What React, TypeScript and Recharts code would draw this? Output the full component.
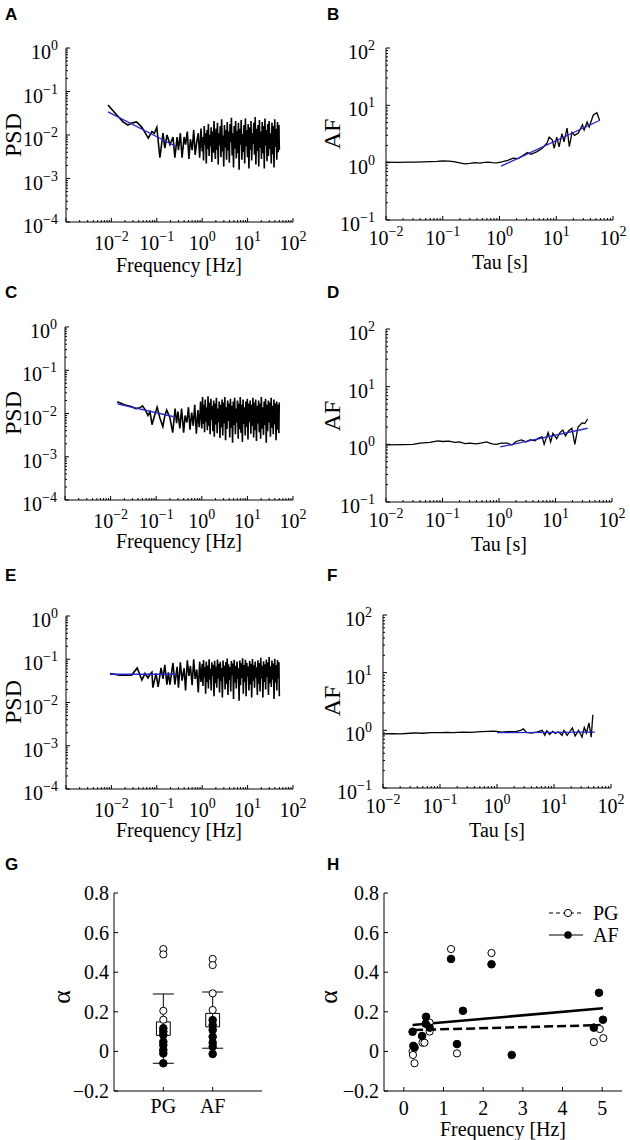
import React from 'react';
import { LineChart, Line, XAxis, YAxis, ComposedChart, Scatter, ErrorBar, ReferenceArea } from 'recharts';

const SERIF = '"Liberation Serif", "Times New Roman", Times, serif';
const SANS = '"Liberation Sans", Arial, Helvetica, sans-serif';
const BLUE = '#2626c8';

// ---------------- PSD panels (A, C, E) ----------------
// shared frequency grid of the dense high-frequency part [Hz]
const denseFreq = [
  0.30, 0.33, 0.36, 0.40, 0.43, 0.47, 0.51, 0.55, 0.60, 0.65, 0.70, 0.76, 0.82, 0.88, 0.94,
  1.00, 1.04, 1.07, 1.11, 1.15, 1.19, 1.23, 1.28, 1.32, 1.37,
  1.42, 1.47, 1.52, 1.58, 1.63, 1.69, 1.75, 1.82, 1.88, 1.95,
  2.02, 2.09, 2.17, 2.25, 2.33, 2.41, 2.50, 2.59, 2.68, 2.78,
  2.88, 2.98, 3.09, 3.20, 3.32, 3.44, 3.56, 3.69, 3.82, 3.96,
  4.10, 4.25, 4.40, 4.56, 4.73, 4.90, 5.07, 5.26, 5.45, 5.64,
  5.85, 6.06, 6.28, 6.50, 6.74, 6.98, 7.23, 7.49, 7.76, 8.04,
  8.33, 8.63, 8.95, 9.27, 9.60, 9.95, 10.3, 10.7, 11.1, 11.5,
  11.9, 12.3, 12.8, 13.2, 13.7, 14.2, 14.7, 15.2, 15.8, 16.4,
  16.9, 17.6, 18.2, 18.8, 19.5, 20.2, 21.0, 21.7, 22.5, 23.3,
  24.1, 25.0, 25.9, 26.8, 27.8, 28.8, 29.8, 30.9, 32.0, 33.2,
  34.4, 35.6, 36.9, 38.2, 39.6, 41.0, 42.5, 44.0, 45.6, 47.2,
  49.0, 50.0,
];

const psdALowF = [0.0084, 0.012, 0.018, 0.023, 0.029, 0.036, 0.047, 0.056, 0.065, 0.078, 0.088, 0.1, 0.117, 0.137, 0.15, 0.168, 0.195, 0.228, 0.25, 0.28];
const psdALowV = [0.049, 0.032, 0.02, 0.017, 0.019, 0.02, 0.015, 0.011, 0.0085, 0.012, 0.011, 0.015, 0.003, 0.011, 0.005, 0.01, 0.006, 0.009, 0.003, 0.009];
const psdADense = [
  0.0045, 0.011, 0.003, 0.009, 0.006, 0.012, 0.0028, 0.008, 0.0045, 0.013, 0.0035, 0.007, 0.011, 0.003, 0.014,
  0.0042, 0.009, 0.0026, 0.016, 0.006, 0.011, 0.0022, 0.013, 0.0048, 0.018,
  0.0033, 0.010, 0.0055, 0.015, 0.0024, 0.012, 0.0039, 0.021, 0.0062, 0.0028,
  0.014, 0.0045, 0.019, 0.0021, 0.011, 0.0058, 0.016, 0.0031, 0.023, 0.0042,
  0.0097, 0.0019, 0.017, 0.0052, 0.013, 0.0027, 0.020, 0.0044, 0.012, 0.0023,
  0.018, 0.0068, 0.025, 0.0034, 0.011, 0.0018, 0.016, 0.0049, 0.021, 0.0029,
  0.0125, 0.0038, 0.019, 0.0016, 0.014, 0.006, 0.022, 0.0027, 0.0105, 0.0041,
  0.017, 0.0022, 0.024, 0.0055, 0.013, 0.0031, 0.018, 0.0017, 0.015, 0.0046,
  0.021, 0.0026, 0.011, 0.0062, 0.019, 0.0035, 0.026, 0.0021, 0.014, 0.0043,
  0.017, 0.0019, 0.022, 0.0051, 0.012, 0.0028, 0.020, 0.0038, 0.016, 0.0017,
  0.024, 0.0057, 0.013, 0.0025, 0.018, 0.0033, 0.021, 0.0048, 0.011, 0.0022,
  0.019, 0.0036, 0.016, 0.0018, 0.023, 0.0053, 0.014, 0.0027, 0.020, 0.004,
  0.017, 0.0045,
];
const psdAFitF = [0.0084, 0.28];
const psdAFitV = [0.034, 0.0053];

const psdCLowF = [0.014, 0.02, 0.028, 0.036, 0.044, 0.05, 0.058, 0.066, 0.073, 0.081, 0.092, 0.105, 0.12, 0.14, 0.155, 0.17, 0.2, 0.23, 0.26, 0.28];
const psdCLowV = [0.0186, 0.016, 0.0145, 0.013, 0.0135, 0.015, 0.012, 0.009, 0.011, 0.0055, 0.009, 0.014, 0.008, 0.005, 0.009, 0.012, 0.008, 0.0036, 0.013, 0.006];
const psdCDense = [
  0.011, 0.0045, 0.013, 0.0036, 0.009, 0.0062, 0.014, 0.0042, 0.0105, 0.0052, 0.016, 0.0034, 0.012, 0.0048, 0.019,
  0.0045, 0.024, 0.0058, 0.016, 0.0037, 0.021, 0.0065, 0.014, 0.0041, 0.025,
  0.0052, 0.018, 0.0033, 0.022, 0.0071, 0.015, 0.0039, 0.020, 0.0029, 0.017,
  0.0056, 0.023, 0.0035, 0.013, 0.0062, 0.019, 0.0027, 0.016, 0.0048, 0.021,
  0.0031, 0.018, 0.0059, 0.024, 0.0024, 0.014, 0.0044, 0.020, 0.0067, 0.017,
  0.0028, 0.022, 0.0047, 0.015, 0.0021, 0.019, 0.0054, 0.023, 0.0033, 0.013,
  0.0061, 0.020, 0.0026, 0.017, 0.0043, 0.024, 0.0036, 0.016, 0.0022, 0.021,
  0.0057, 0.014, 0.0031, 0.019, 0.0049, 0.022, 0.0025, 0.017, 0.0063, 0.020,
  0.0034, 0.016, 0.0052, 0.023, 0.0028, 0.018, 0.0041, 0.021, 0.0023, 0.015,
  0.0059, 0.020, 0.0037, 0.017, 0.0026, 0.024, 0.0045, 0.014, 0.0032, 0.019,
  0.0054, 0.022, 0.0021, 0.016, 0.0039, 0.020, 0.0062, 0.018, 0.0029, 0.023,
  0.0047, 0.015, 0.0033, 0.021, 0.0056, 0.017, 0.0024, 0.019, 0.0042, 0.016,
  0.0035, 0.018,
];
const psdCFitF = [0.014, 0.26];
const psdCFitV = [0.0166, 0.0083];

const psdELowF = [0.0093, 0.015, 0.028, 0.037, 0.047, 0.055, 0.064, 0.071, 0.078, 0.082, 0.096, 0.107, 0.124, 0.137, 0.15, 0.167, 0.18, 0.195, 0.227, 0.25, 0.28];
const psdELowV = [0.047, 0.043, 0.043, 0.063, 0.033, 0.047, 0.037, 0.045, 0.05, 0.022, 0.047, 0.023, 0.063, 0.035, 0.074, 0.026, 0.05, 0.026, 0.082, 0.026, 0.067];
const psdEDense = [
  0.022, 0.085, 0.032, 0.062, 0.019, 0.095, 0.041, 0.070, 0.025, 0.100, 0.035, 0.058, 0.017, 0.088, 0.030,
  0.078, 0.024, 0.096, 0.038, 0.065, 0.016, 0.088, 0.030, 0.072, 0.021,
  0.100, 0.034, 0.060, 0.019, 0.085, 0.041, 0.075, 0.014, 0.092, 0.028,
  0.068, 0.022, 0.098, 0.036, 0.079, 0.017, 0.087, 0.031, 0.063, 0.013,
  0.094, 0.039, 0.071, 0.020, 0.086, 0.027, 0.104, 0.015, 0.076, 0.033,
  0.066, 0.018, 0.091, 0.042, 0.080, 0.012, 0.097, 0.029, 0.070, 0.021,
  0.089, 0.035, 0.062, 0.011, 0.093, 0.025, 0.081, 0.037, 0.105, 0.016,
  0.074, 0.030, 0.097, 0.014, 0.083, 0.040, 0.068, 0.019, 0.092, 0.026,
  0.079, 0.013, 0.101, 0.032, 0.073, 0.022, 0.088, 0.038, 0.065, 0.015,
  0.095, 0.027, 0.082, 0.018, 0.108, 0.036, 0.071, 0.013, 0.090, 0.030,
  0.077, 0.020, 0.099, 0.039, 0.084, 0.015, 0.112, 0.028, 0.069, 0.023,
  0.093, 0.034, 0.080, 0.012, 0.102, 0.029, 0.074, 0.019, 0.096, 0.036,
  0.085, 0.014,
];
const psdEFitF = [0.0093, 0.28];
const psdEFitV = [0.045, 0.045];

// ---------------- AF panels (B, D, F) ----------------
const afBTau = [0.01, 0.016, 0.025, 0.032, 0.045, 0.06, 0.08, 0.1, 0.13, 0.165, 0.2, 0.245, 0.3, 0.37, 0.45, 0.55, 0.63, 0.75, 0.9, 1.1, 1.4, 1.74, 2.1, 2.5, 3.1, 3.6, 4.6, 5.6, 6.9, 7.5, 8.5, 9.2, 10.2, 11.2, 12.6, 13.7, 15.5, 17, 19, 21, 24.5, 29, 31, 35, 38, 45, 52, 58];
const afBVal = [1.02, 1.01, 1.02, 1.02, 1.03, 1.04, 1.05, 1.07, 1.06, 1.03, 0.99, 0.95, 0.97, 1.0, 0.98, 1.01, 1.02, 1.0, 0.99, 1.03, 1.1, 1.2, 1.18, 1.3, 1.5, 1.4, 1.56, 1.77, 2.2, 2.8, 2.5, 1.77, 2.8, 1.88, 3.2, 2.3, 4.0, 1.9, 3.4, 3.0, 3.3, 4.6, 3.7, 5.1, 4.2, 6.8, 7.4, 5.5];
const afBFitTau = [1.07, 59];
const afBFitVal = [0.87, 5.5];

const afDTau = [0.01, 0.02, 0.03, 0.04, 0.06, 0.083, 0.1, 0.13, 0.165, 0.2, 0.25, 0.3, 0.4, 0.5, 0.6, 0.75, 0.9, 1.1, 1.4, 1.7, 2.0, 2.5, 3.0, 3.6, 4.3, 5.0, 5.8, 6.3, 7.4, 8.2, 9.0, 10.5, 12, 13.5, 15, 17, 19.5, 22, 25, 29.5, 33, 37];
const afDVal = [0.98, 0.99, 1.0, 1.05, 1.08, 1.15, 1.12, 1.14, 1.08, 1.1, 1.03, 1.05, 1.02, 1.06, 1.1, 1.02, 1.0, 1.05, 1.05, 0.97, 1.12, 1.19, 1.1, 1.2, 1.15, 1.28, 1.35, 1.0, 1.6, 1.1, 1.55, 1.25, 1.6, 1.77, 1.4, 1.7, 1.9, 1.0, 2.0, 2.35, 2.3, 2.75];
const afDFitTau = [1.05, 37];
const afDFitVal = [0.9, 1.9];

const afFTau = [0.01, 0.015, 0.02, 0.03, 0.036, 0.05, 0.07, 0.1, 0.13, 0.17, 0.25, 0.35, 0.45, 0.55, 0.7, 0.85, 1.0, 1.2, 1.5, 2.1, 2.6, 2.9, 3.3, 4.0, 5.0, 6.2, 6.9, 7.5, 8.4, 9.5, 10.5, 12, 13.8, 15, 17, 19, 21, 23.5, 27, 31, 34, 37, 41, 45, 48];
const afFVal = [0.87, 0.88, 0.87, 0.89, 0.9, 0.89, 0.91, 0.91, 0.92, 0.91, 0.93, 0.92, 0.94, 0.95, 0.96, 0.97, 0.96, 0.93, 0.95, 0.95, 1.0, 1.06, 0.92, 0.9, 0.93, 1.0, 0.82, 0.98, 0.85, 0.96, 0.88, 0.94, 0.82, 1.0, 0.82, 0.95, 1.1, 0.8, 1.0, 0.76, 1.12, 0.9, 1.35, 0.76, 1.86];
const afFFitTau = [1.0, 52];
const afFFitVal = [0.91, 0.93];

// ---------------- G: group summary ----------------
const gCategories = ['PG', 'AF'];
const gCatPos = [1, 2];
const gMean = [0.115, 0.158];
const gSd = [0.175, 0.142];
const gSem = [0.034, 0.034];
const gPgOpen = [0.517, 0.49, 0.205, 0.16];
const gPgFilled = [0.117, 0.10, 0.083, 0.049, 0.032, 0.007, -0.01, -0.06];
const gAfOpen = [0.467, 0.436, 0.293, 0.209];
const gAfFilled = [0.158, 0.133, 0.108, 0.074, 0.044, 0.024, -0.013];

// ---------------- H: alpha vs frequency ----------------
const hPgFreq = [0.22, 0.23, 0.27, 0.47, 0.52, 0.65, 0.65, 1.19, 1.34, 2.21, 4.79, 4.94, 5.03];
const hPgAlpha = [0.0, -0.018, -0.06, 0.044, 0.044, 0.145, 0.1, 0.517, -0.01, 0.497, 0.047, 0.113, 0.067];
const hAfFreq = [0.22, 0.24, 0.27, 0.46, 0.56, 0.55, 0.65, 1.19, 1.34, 1.49, 2.21, 2.72, 4.92, 4.79, 5.02];
const hAfAlpha = [0.099, 0.028, 0.02, 0.078, 0.175, 0.14, 0.12, 0.467, 0.037, 0.205, 0.44, -0.018, 0.296, 0.12, 0.16];
const hPgFitFreq = [0.26, 4.96];
const hPgFitAlpha = [0.108, 0.133];
const hAfFitFreq = [0.22, 5.02];
const hAfFitAlpha = [0.133, 0.218];
const hSeriesNames = ['PG', 'AF'];

// ---------------- ticks ----------------
const psdXMajor = [0.001, 0.01, 0.1, 1, 10, 100];
const psdXLabels = [0.01, 0.1, 1, 10, 100];
const psdYMajor = [0.0001, 0.001, 0.01, 0.1, 1];
const psdYLabels = [0.0001, 0.001, 0.01, 0.1, 1];
const afXMajor = [0.01, 0.1, 1, 10, 100];
const afXLabels = [0.01, 0.1, 1, 10, 100];
const afYMajor = [0.1, 1, 10, 100];
const afYLabels = [0.1, 1, 10, 100];
const alphaTicks = [-0.2, 0, 0.2, 0.4, 0.6, 0.8];
const hFreqTicks = [0, 1, 2, 3, 4, 5];

const withMinor = (majors: number[]) => {
  const out: number[] = [...majors];
  for (let i = 0; i < majors.length - 1; i++) {
    for (let k = 2; k <= 9; k++) out.push(k * majors[i]);
  }
  return out.sort((a, b) => a - b);
};

const toXY = (xs: number[], ys: number[]) =>
  xs.map((x, i) => ({ x, y: ys[i] })).filter((d) => d.y !== undefined && d.y !== null);

const isDecade = (v: number) => {
  const l = Math.log10(v);
  return Math.abs(l - Math.round(l)) < 1e-6;
};
const inList = (v: number, arr: number[]) => arr.some((a) => Math.abs(Math.log10(a) - Math.log10(v)) < 1e-6);
const expText = (v: number) => {
  const e = Math.round(Math.log10(v));
  return e < 0 ? '\u2212' + -e : String(e);
};
const fmtAlpha = (v: number) => (Math.abs(v) < 1e-9 ? '0' : (v < 0 ? '\u2212' : '') + Math.abs(v).toFixed(1));

const TICK_FS = 20;
const SUP_FS = 14;

function logXTick(labels: number[], base: number) {
  return (props: any) => {
    const { x, y, payload } = props;
    const v = Number(payload.value);
    const major = isDecade(v);
    return (
      <g>
        <line x1={x} x2={x} y1={y} y2={y - (major ? 4 : 2)} stroke="#000" strokeWidth={1} />
        {major && inList(v, labels) ? (
          <text x={x} y={y + base} textAnchor="middle" fontFamily={SERIF} fontSize={TICK_FS} fill="#000">
            10<tspan dy={-9} fontSize={SUP_FS}>{expText(v)}</tspan>
          </text>
        ) : null}
      </g>
    );
  };
}

function logYTick(labels: number[], gap: number) {
  return (props: any) => {
    const { x, y, payload } = props;
    const v = Number(payload.value);
    const major = isDecade(v);
    return (
      <g>
        <line x1={x} x2={x + (major ? 4 : 2)} y1={y} y2={y} stroke="#000" strokeWidth={1} />
        {major && inList(v, labels) ? (
          <text x={x - gap} y={y + 11} textAnchor="end" fontFamily={SERIF} fontSize={TICK_FS} fill="#000">
            10<tspan dy={-9} fontSize={SUP_FS}>{expText(v)}</tspan>
          </text>
        ) : null}
      </g>
    );
  };
}

function linXTick(fmt: (v: number) => string, base: number) {
  return (props: any) => {
    const { x, y, payload } = props;
    const v = Number(payload.value);
    return (
      <g>
        <line x1={x} x2={x} y1={y} y2={y - 4} stroke="#000" strokeWidth={1} />
        <text x={x} y={y + base} textAnchor="middle" fontFamily={SERIF} fontSize={20} fill="#000">
          {fmt(v)}
        </text>
      </g>
    );
  };
}

function linYTick(fmt: (v: number) => string, gap: number) {
  return (props: any) => {
    const { x, y, payload } = props;
    const v = Number(payload.value);
    return (
      <g>
        <line x1={x} x2={x + 4} y1={y} y2={y} stroke="#000" strokeWidth={1} />
        <text x={x - gap} y={y + 7} textAnchor="end" fontFamily={SERIF} fontSize={20} fill="#000">
          {fmt(v)}
        </text>
      </g>
    );
  };
}

type LineSpec = { data: { x: number; y: number }[]; color: string; width: number };

const RM = 25; // right room for the last tick label

function LogPanel(p: {
  L: number; R: number; T: number; B: number;
  xDomain: [number, number]; yDomain: [number, number];
  xTicks: number[]; yTicks: number[]; xLabels: number[]; yLabels: number[];
  xBase: number; yGap: number; lines: LineSpec[];
}) {
  const w = p.R - p.L;
  const h = p.B - p.T;
  return (
    <div style={{ position: 'absolute', left: p.L - 60, top: p.T - 10 }}>
      <LineChart width={w + 60 + RM} height={h + 60} margin={{ top: 10, right: RM, bottom: 0, left: 0 }}>
        <XAxis
          dataKey="x" type="number" scale="log" domain={p.xDomain} allowDataOverflow
          ticks={p.xTicks} interval={0} height={50} tickLine={false} tickSize={0} tickMargin={0}
          axisLine={{ stroke: '#000', strokeWidth: 1 }} tick={logXTick(p.xLabels, p.xBase)}
        />
        <YAxis
          type="number" scale="log" domain={p.yDomain} allowDataOverflow
          ticks={p.yTicks} interval={0} width={60} tickLine={false} tickSize={0} tickMargin={0}
          axisLine={{ stroke: '#000', strokeWidth: 1 }} tick={logYTick(p.yLabels, p.yGap)}
        />
        {p.lines.map((s, i) => (
          <Line
            key={i} data={s.data} dataKey="y" type="linear" stroke={s.color} strokeWidth={s.width}
            dot={false} activeDot={false} isAnimationActive={false}
          />
        ))}
      </LineChart>
    </div>
  );
}

const OpenCircle = (props: any) => (
  <circle cx={props.cx} cy={props.cy} r={3.6} fill="#fff" stroke="#000" strokeWidth={1} />
);
const FilledCircle = (props: any) => (
  <circle cx={props.cx} cy={props.cy} r={3.8} fill="#000" stroke="#000" strokeWidth={1} />
);
const NoShape = () => <g />;

function PanelG() {
  const L = 114, R = 262, T = 893, B = 1091;
  const boxHalf = 0.14;
  const summary = gCatPos.map((x, i) => ({ x, y: gMean[i], err: [gSd[i], gSd[i]] }));
  const pgOpen = gPgOpen.map((y) => ({ x: gCatPos[0], y }));
  const pgFilled = gPgFilled.map((y) => ({ x: gCatPos[0], y }));
  const afOpen = gAfOpen.map((y) => ({ x: gCatPos[1], y }));
  const afFilled = gAfFilled.map((y) => ({ x: gCatPos[1], y }));
  const catFmt = (v: number) => gCategories[gCatPos.indexOf(v)] ?? '';
  return (
    <div style={{ position: 'absolute', left: L - 60, top: T - 10 }}>
      <ComposedChart width={R - L + 60 + RM} height={B - T + 60} margin={{ top: 10, right: RM, bottom: 0, left: 0 }}>
        <XAxis
          dataKey="x" type="number" domain={[0, 3]} allowDataOverflow ticks={gCatPos} interval={0}
          height={50} tickLine={false} tickSize={0} tickMargin={0}
          axisLine={{ stroke: '#000', strokeWidth: 1 }} tick={linXTick(catFmt, 22)}
        />
        <YAxis
          dataKey="y" type="number" domain={[-0.2, 0.8]} allowDataOverflow ticks={alphaTicks} interval={0}
          width={60} tickLine={false} tickSize={0} tickMargin={0}
          axisLine={{ stroke: '#000', strokeWidth: 1 }} tick={linYTick(fmtAlpha, 5)}
        />
        {gCatPos.map((x, i) => (
          <ReferenceArea
            key={'box' + i} x1={x - boxHalf} x2={x + boxHalf} y1={gMean[i] - gSem[i]} y2={gMean[i] + gSem[i]}
            fill="none" fillOpacity={0} stroke="#000" strokeWidth={1}
          />
        ))}
        <Scatter data={summary} dataKey="y" shape={NoShape} isAnimationActive={false}>
          <ErrorBar dataKey="err" direction="y" width={10.5} stroke="#000" strokeWidth={1} isAnimationActive={false} />
        </Scatter>
        <Scatter data={pgFilled} dataKey="y" shape={FilledCircle} isAnimationActive={false} />
        <Scatter data={afFilled} dataKey="y" shape={FilledCircle} isAnimationActive={false} />
        <Scatter data={pgOpen} dataKey="y" shape={OpenCircle} isAnimationActive={false} />
        <Scatter data={afOpen} dataKey="y" shape={OpenCircle} isAnimationActive={false} />
      </ComposedChart>
    </div>
  );
}

function PanelH() {
  const L = 384, R = 622, T = 893, B = 1091;
  return (
    <div style={{ position: 'absolute', left: L - 60, top: T - 10 }}>
      <ComposedChart width={R - L + 60 + 8} height={B - T + 60} margin={{ top: 10, right: 8, bottom: 0, left: 0 }}>
        <XAxis
          dataKey="x" type="number" domain={[-0.5, 5.5]} allowDataOverflow ticks={hFreqTicks} interval={0}
          height={50} tickLine={false} tickSize={0} tickMargin={0}
          axisLine={{ stroke: '#000', strokeWidth: 1 }} tick={linXTick((v) => String(v), 24)}
        />
        <YAxis
          dataKey="y" type="number" domain={[-0.2, 0.8]} allowDataOverflow ticks={alphaTicks} interval={0}
          width={60} tickLine={false} tickSize={0} tickMargin={0}
          axisLine={{ stroke: '#000', strokeWidth: 1 }} tick={linYTick(fmtAlpha, 5)}
        />
        <Scatter data={toXY(hPgFreq, hPgAlpha)} dataKey="y" shape={OpenCircle} isAnimationActive={false} />
        <Scatter data={toXY(hAfFreq, hAfAlpha)} dataKey="y" shape={FilledCircle} isAnimationActive={false} />
        <Line
          data={toXY(hPgFitFreq, hPgFitAlpha)} dataKey="y" type="linear" stroke="#000" strokeWidth={2.5}
          strokeDasharray="9 4" dot={false} activeDot={false} isAnimationActive={false}
        />
        <Line
          data={toXY(hAfFitFreq, hAfFitAlpha)} dataKey="y" type="linear" stroke="#000" strokeWidth={2.5}
          dot={false} activeDot={false} isAnimationActive={false}
        />
      </ComposedChart>
    </div>
  );
}

const panelLetters = ['A', 'B', 'C', 'D', 'E', 'F', 'G', 'H'];
const letterPos = [[5, 20], [327, 20], [5, 298], [327, 298], [5, 581], [327, 581], [5, 870], [327, 870]];
const yTitles = ['PSD', 'AF', 'PSD', 'AF', 'PSD', 'AF', '\u03b1', '\u03b1'];
const yTitlePos = [[13, 135], [332, 134], [13, 413], [332, 416], [13, 702], [332, 701], [61, 997], [328, 997]];
const xTitles = ['Frequency [Hz]', 'Tau [s]', 'Frequency [Hz]', 'Tau [s]', 'Frequency [Hz]', 'Tau [s]', '', 'Frequency [Hz]'];
const xTitlePos = [[179, 265], [500, 262], [179, 541], [499, 544], [179, 830], [497, 830], [0, 0], [503, 1129]];

export default function App() {
  const psdXTicks = withMinor(psdXMajor);
  const psdYTicks = withMinor(psdYMajor);
  const afXTicks = withMinor(afXMajor);
  const afYTicks = withMinor(afYMajor);

  const psdA = [...toXY(psdALowF, psdALowV), ...toXY(denseFreq, psdADense)];
  const psdC = [...toXY(psdCLowF, psdCLowV), ...toXY(denseFreq, psdCDense)];
  const psdE = [...toXY(psdELowF, psdELowV), ...toXY(denseFreq, psdEDense)];

  const psdCommon = {
    xDomain: [0.001, 100] as [number, number], yDomain: [0.0001, 1] as [number, number],
    xTicks: psdXTicks, yTicks: psdYTicks, xLabels: psdXLabels, yLabels: psdYLabels, xBase: 28, yGap: 8,
  };
  const afCommon = {
    xDomain: [0.01, 100] as [number, number], yDomain: [0.1, 100] as [number, number],
    xTicks: afXTicks, yTicks: afYTicks, xLabels: afXLabels, yLabels: afYLabels, xBase: 25, yGap: 11,
  };
  const pw = 1.6;
  const aw = 1.3;

  return (
    <div style={{ position: 'absolute', left: 0, top: 0, width: 630, height: 1140, background: '#fff', overflow: 'hidden' }}>
      <LogPanel {...psdCommon} L={66} R={293} T={48} B={222}
        lines={[{ data: psdA, color: '#000', width: pw }, { data: toXY(psdAFitF, psdAFitV), color: BLUE, width: 1.3 }]} />
      <LogPanel {...afCommon} L={386} R={613} T={48} B={220}
        lines={[{ data: toXY(afBTau, afBVal), color: '#000', width: aw }, { data: toXY(afBFitTau, afBFitVal), color: BLUE, width: 1.3 }]} />
      <LogPanel {...psdCommon} L={65} R={293} T={327} B={500}
        lines={[{ data: psdC, color: '#000', width: pw }, { data: toXY(psdCFitF, psdCFitV), color: BLUE, width: 1.3 }]} />
      <LogPanel {...afCommon} L={386} R={612} T={329} B={502}
        lines={[{ data: toXY(afDTau, afDVal), color: '#000', width: aw }, { data: toXY(afDFitTau, afDFitVal), color: BLUE, width: 1.3 }]} />
      <LogPanel {...psdCommon} L={66} R={293} T={616} B={789}
        lines={[{ data: psdE, color: '#000', width: pw }, { data: toXY(psdEFitF, psdEFitV), color: BLUE, width: 1.3 }]} />
      <LogPanel {...afCommon} L={383} R={611} T={615} B={788}
        lines={[{ data: toXY(afFTau, afFVal), color: '#000', width: aw }, { data: toXY(afFFitTau, afFFitVal), color: BLUE, width: 1.3 }]} />
      <PanelG />
      <PanelH />

      <svg width={630} height={1140} style={{ position: 'absolute', left: 0, top: 0, pointerEvents: 'none' }}>
        {panelLetters.map((t, i) => (
          <text key={'l' + i} x={letterPos[i][0]} y={letterPos[i][1]} fontFamily={SANS} fontWeight="bold" fontSize={17} fill="#000">
            {t}
          </text>
        ))}
        {yTitles.map((t, i) => (
          <text
            key={'y' + i} x={yTitlePos[i][0]} y={yTitlePos[i][1]} textAnchor="middle" dominantBaseline="central"
            transform={`rotate(-90 ${yTitlePos[i][0]} ${yTitlePos[i][1]})`}
            fontFamily={SERIF} fontSize={i >= 6 ? 26 : 24} fill="#000"
          >
            {t}
          </text>
        ))}
        {xTitles.map((t, i) =>
          t ? (
            <text key={'x' + i} x={xTitlePos[i][0]} y={xTitlePos[i][1]} textAnchor="middle" dominantBaseline="central"
              fontFamily={SERIF} fontSize={20} fill="#000">
              {t}
            </text>
          ) : null
        )}
        {/* legend of panel H */}
        <line x1={549} x2={583} y1={913} y2={913} stroke="#000" strokeWidth={1} strokeDasharray="4 3" />
        <circle cx={568} cy={913} r={3.6} fill="#fff" stroke="#000" strokeWidth={1} />
        <text x={593} y={913} dominantBaseline="central" fontFamily={SERIF} fontSize={20} fill="#000">{hSeriesNames[0]}</text>
        <line x1={549} x2={583} y1={935} y2={935} stroke="#000" strokeWidth={1} />
        <circle cx={568} cy={935} r={3.8} fill="#000" />
        <text x={593} y={935} dominantBaseline="central" fontFamily={SERIF} fontSize={20} fill="#000">{hSeriesNames[1]}</text>
      </svg>
    </div>
  );
}
